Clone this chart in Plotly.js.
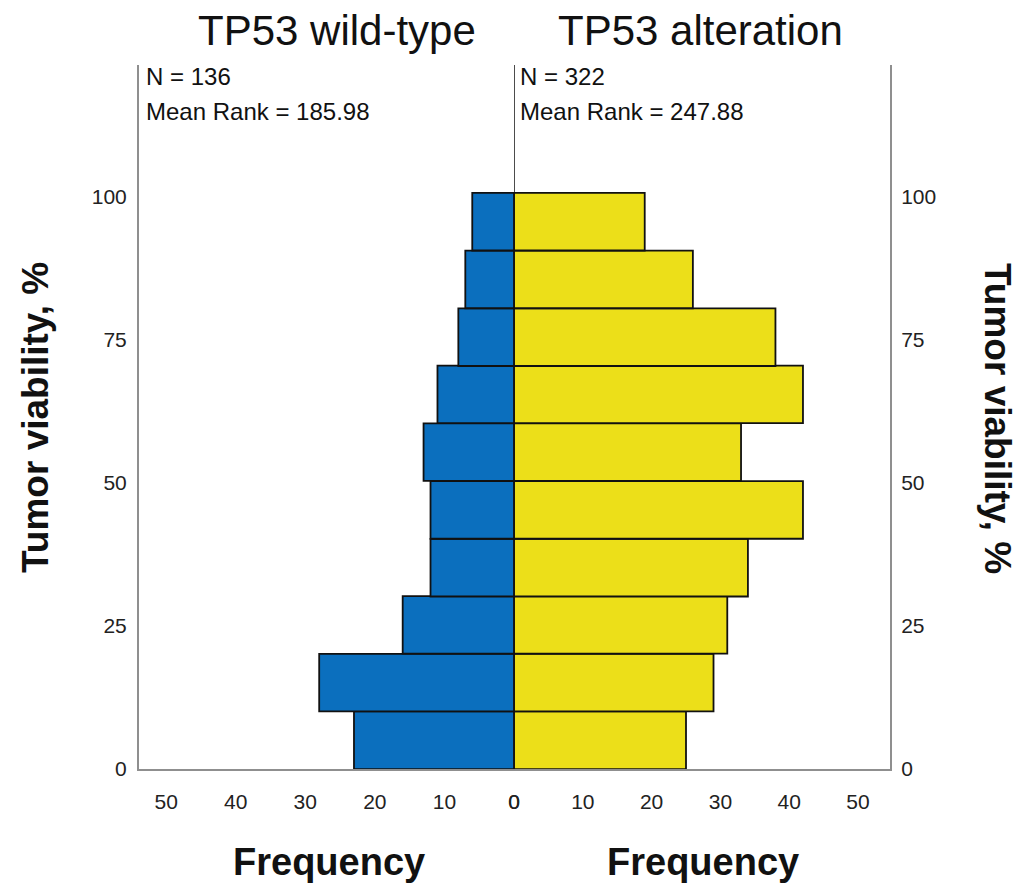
<!DOCTYPE html>
<html><head><meta charset="utf-8">
<script src="https://cdn.plot.ly/plotly-3.0.1.min.js"></script>
<style>body{margin:0;background:#fff}#chart{width:1025px;height:893px}</style>
</head><body><div id="chart"></div>
<script>
// Histogram bins of tumor viability (%)
const binCenters = [5.03, 15.1, 25.2, 35.2, 45.3, 55.4, 65.5, 75.5, 85.6, 95.7];
const binWidth = 10.07;
// Frequencies per bin (bottom to top)
const wildType   = [23, 28, 16, 12, 12, 13, 11, 8, 7, 6];
const alteration = [25, 29, 31, 34, 42, 33, 42, 38, 26, 19];
const xTicks = [0, 10, 20, 30, 40, 50];
const yTicks = [0, 25, 50, 75, 100];
const panelTitles = ["TP53 wild-type", "TP53 alteration"];
const nText = ["N = 136", "N = 322"];
const rankText = ["Mean Rank = 185.98", "Mean Rank = 247.88"];
const xTitle = "Frequency";
const yTitle = "Tumor viability, %";

const FONT = "Arial, 'Liberation Sans', sans-serif";
const W = 1025, H = 893;
const px = v => v / W, py = v => (H - v) / H;
const yRange = [0, 123.1];
const frameCol = "#8f8f8f";

const traces = [
  {type: "bar", orientation: "h", x: wildType, y: binCenters, width: binWidth,
   xaxis: "x", yaxis: "y", marker: {color: "#0B6FBE", line: {color: "#111", width: 1.8}},
   hoverinfo: "x+y", name: panelTitles[0]},
  {type: "bar", orientation: "h", x: alteration, y: binCenters, width: binWidth,
   xaxis: "x2", yaxis: "y2", marker: {color: "#ECDF19", line: {color: "#111", width: 1.8}},
   hoverinfo: "x+y", name: panelTitles[1]}
];

const axCommon = {showgrid: false, zeroline: false, showline: true, linecolor: frameCol, linewidth: 2,
  ticks: "outside", tickcolor: "rgba(0,0,0,0)", tickfont: {family: FONT, size: 21, color: "#222"}, fixedrange: true};

function ann(text, x, y, size, opts) {
  return Object.assign({text: text, xref: "paper", yref: "paper", x: px(x), y: py(y),
    xanchor: "center", yanchor: "middle", showarrow: false,
    font: {family: FONT, size: size, color: "#111"}}, opts || {});
}

const layout = {
  width: W, height: H, margin: {l: 0, r: 0, t: 0, b: 0},
  paper_bgcolor: "#fff", plot_bgcolor: "#fff", showlegend: false, bargap: 0,
  xaxis: Object.assign({}, axCommon, {domain: [px(139), px(514)], anchor: "y", range: [53.9, 0],
    tickvals: xTicks, ticklen: 13}),
  xaxis2: Object.assign({}, axCommon, {domain: [px(514), px(890)], anchor: "y2", range: [0, 54.65],
    tickvals: xTicks, ticklen: 13}),
  yaxis: Object.assign({}, axCommon, {domain: [py(769), py(65)], anchor: "x", side: "left",
    range: yRange, tickvals: yTicks, ticklen: 6}),
  yaxis2: Object.assign({}, axCommon, {domain: [py(769), py(65)], anchor: "x2", side: "right",
    range: yRange, tickvals: yTicks, ticklen: 5}),
  shapes: [
    {type: "line", xref: "x2", yref: "y2", x0: 0, x1: 0, y0: yRange[0], y1: yRange[1],
     line: {color: "#111", width: 1.5}}
  ],
  annotations: [
    ann(panelTitles[0], 337, 30, 42),
    ann(panelTitles[1], 700, 30, 42),
    ann(nText[0], 144, 76, 24, {xanchor: "left"}),
    ann(rankText[0], 144, 111, 24, {xanchor: "left"}),
    ann(nText[1], 518, 76, 24, {xanchor: "left"}),
    ann(rankText[1], 518, 111, 24, {xanchor: "left"}),
    ann("<b>" + xTitle + "</b>", 329, 862, 38),
    ann("<b>" + xTitle + "</b>", 703, 862, 38),
    ann("<b>" + yTitle + "</b>", 35, 418, 37, {textangle: -90}),
    ann("<b>" + yTitle + "</b>", 998, 418, 37, {textangle: 90})
  ]
};

Plotly.newPlot("chart", traces, layout, {displayModeBar: false, staticPlot: true});
</script>
</body></html>
